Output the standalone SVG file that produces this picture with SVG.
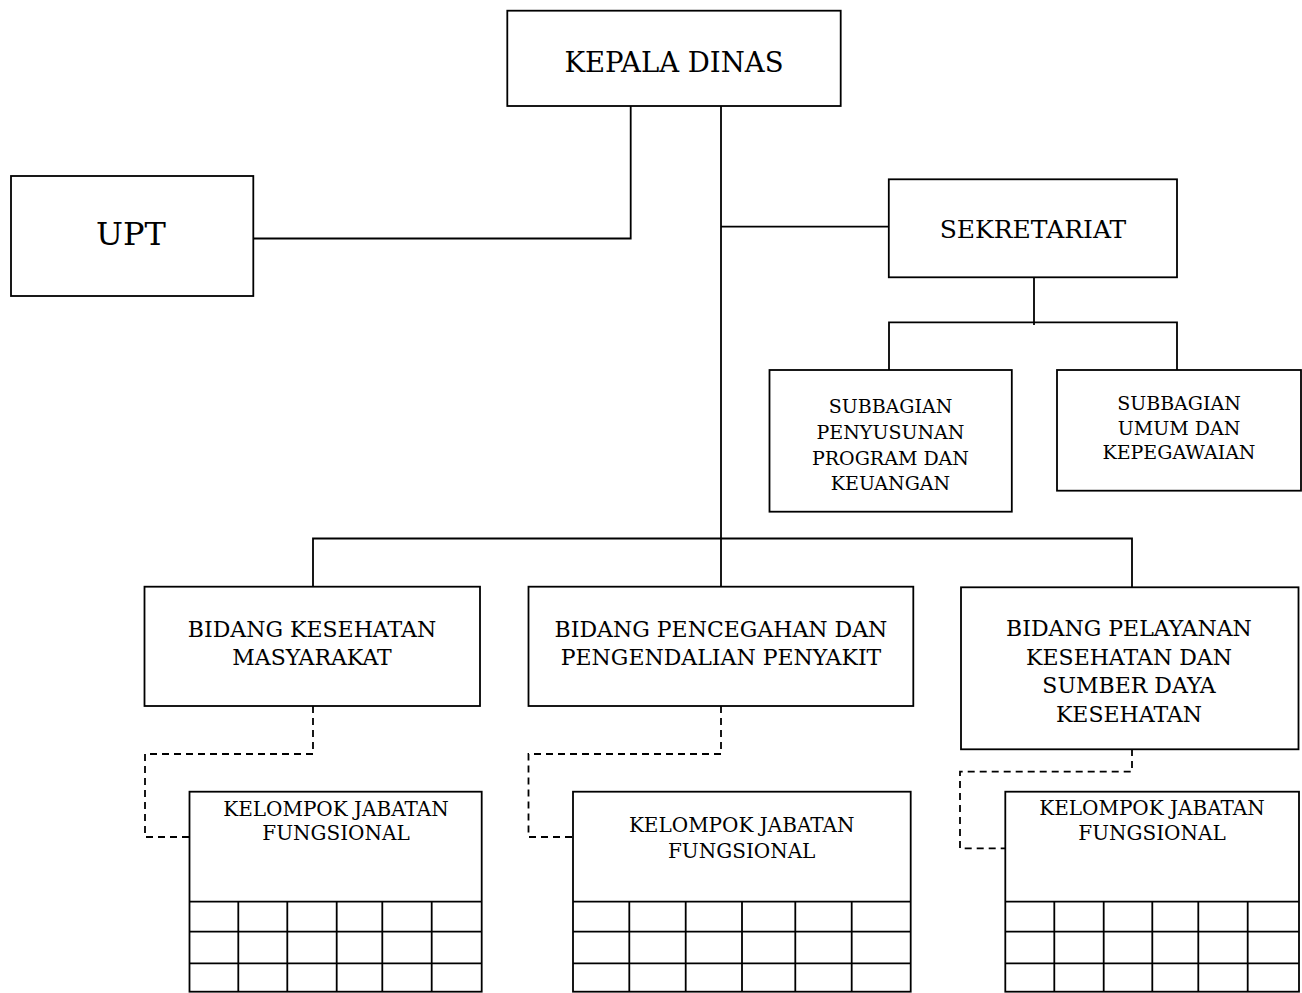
<svg xmlns="http://www.w3.org/2000/svg" width="1302" height="993" viewBox="0 0 1302 993">
<style>
.box{fill:#fff;stroke:#000;stroke-width:1.8}
.ln{fill:none;stroke:#000;stroke-width:1.8}
.dash{fill:none;stroke:#000;stroke-width:1.8;stroke-dasharray:7 5}
.grid{fill:none;stroke:#000;stroke-width:1.8}
text{font-family:"DejaVu Serif","Liberation Serif",serif;fill:#000;text-anchor:middle}
.t28{font-size:27.5px}.t32{font-size:32px}.t25{font-size:25px}.t22{font-size:22px}.t19{font-size:19px}.t20{font-size:20px}
</style>
<rect width="1302" height="993" fill="#fff"/>
<g id="connectors">
<polyline class="ln" points="630.7,106 630.7,238.5 253,238.5"/>
<line class="ln" x1="721" y1="106" x2="721" y2="587"/>
<line class="ln" x1="721" y1="226.7" x2="889" y2="226.7"/>
<line class="ln" x1="1034" y1="277" x2="1034" y2="325"/>
<polyline class="ln" points="889,370 889,322.3 1177,322.3 1177,370"/>
<polyline class="ln" points="313,587 313,538.5 1132,538.5 1132,587"/>
<polyline class="dash" points="313,706 313,754 145,754 145,837 190,837"/>
<polyline class="dash" points="721,706 721,754 528.5,754 528.5,837 573,837"/>
<polyline class="dash" points="1132,749 1132,771.7 960,771.7 960,848.3 1005,848.3"/>
</g>
<g id="kepala-dinas">
<rect class="box" x="507.3" y="10.7" width="333.4" height="95.3"/>
<text class="t28" x="674" y="72.3">KEPALA DINAS</text>
</g>
<g id="upt">
<rect class="box" x="11" y="176" width="242.3" height="120"/>
<text class="t32" x="131" y="245">UPT</text>
</g>
<g id="sekretariat">
<rect class="box" x="888.8" y="179.3" width="288.2" height="98"/>
<text class="t25" x="1033" y="238.3">SEKRETARIAT</text>
</g>
<g id="subbagian-program">
<rect class="box" x="769.5" y="370" width="242.3" height="141.7"/>
<text class="t19" x="890.5" y="413.3">SUBBAGIAN</text>
<text class="t19" x="890.5" y="439.3">PENYUSUNAN</text>
<text class="t19" x="890.5" y="465">PROGRAM DAN</text>
<text class="t19" x="890.5" y="490">KEUANGAN</text>
</g>
<g id="subbagian-umum">
<rect class="box" x="1057" y="370" width="244" height="120.7"/>
<text class="t19" x="1179" y="410">SUBBAGIAN</text>
<text class="t19" x="1179" y="435">UMUM DAN</text>
<text class="t19" x="1179" y="459.3">KEPEGAWAIAN</text>
</g>
<g id="bidang-kesmas">
<rect class="box" x="144.5" y="586.7" width="335.5" height="119.3"/>
<text class="t22" x="312" y="636.7">BIDANG KESEHATAN</text>
<text class="t22" x="312" y="665">MASYARAKAT</text>
</g>
<g id="bidang-p2p">
<rect class="box" x="528.5" y="586.7" width="384.8" height="119.3"/>
<text class="t22" x="721" y="636.7">BIDANG PENCEGAHAN DAN</text>
<text class="t22" x="721" y="665">PENGENDALIAN PENYAKIT</text>
</g>
<g id="bidang-yankes">
<rect class="box" x="961" y="587.3" width="337.5" height="162"/>
<text class="t22" x="1129" y="636">BIDANG PELAYANAN</text>
<text class="t22" x="1129" y="665">KESEHATAN DAN</text>
<text class="t22" x="1129" y="693.3">SUMBER DAYA</text>
<text class="t22" x="1129" y="721.7">KESEHATAN</text>
</g>
<g id="kjf-1">
<rect class="box" x="189.5" y="791.7" width="292.2" height="200"/>
<path class="grid" d="M189.5 901.7H481.7M189.5 931.7H481.7M189.5 963.3H481.7M238.3 901.7V991.7M287.3 901.7V991.7M336.7 901.7V991.7M382.3 901.7V991.7M431.7 901.7V991.7"/>
<text class="t20" x="336" y="816">KELOMPOK JABATAN</text>
<text class="t20" x="336" y="840">FUNGSIONAL</text>
</g>
<g id="kjf-2">
<rect class="box" x="573" y="791.7" width="337.7" height="200"/>
<path class="grid" d="M573 901.7H910.7M573 931.7H910.7M573 963.3H910.7M629.3 901.7V991.7M685.7 901.7V991.7M742 901.7V991.7M795.3 901.7V991.7M851.7 901.7V991.7"/>
<text class="t20" x="741.7" y="831.7">KELOMPOK JABATAN</text>
<text class="t20" x="741.7" y="858">FUNGSIONAL</text>
</g>
<g id="kjf-3">
<rect class="box" x="1005.3" y="791.7" width="293.7" height="200"/>
<path class="grid" d="M1005.3 901.7H1299M1005.3 931.7H1299M1005.3 963.3H1299M1054.3 901.7V991.7M1103.7 901.7V991.7M1152.3 901.7V991.7M1198.3 901.7V991.7M1247.7 901.7V991.7"/>
<text class="t20" x="1152" y="815">KELOMPOK JABATAN</text>
<text class="t20" x="1152" y="840">FUNGSIONAL</text>
</g>
</svg>
